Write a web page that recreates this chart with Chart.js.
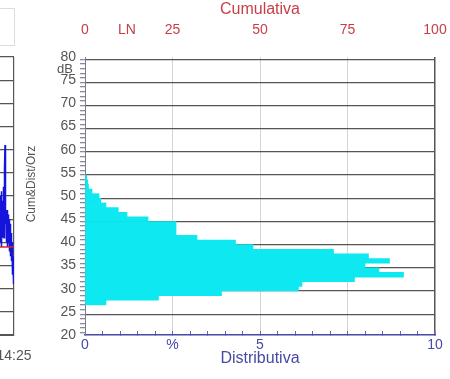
<!DOCTYPE html>
<html>
<head>
<meta charset="utf-8">
<script src="https://cdn.jsdelivr.net/npm/chart.js@4.4.0/dist/chart.umd.min.js"></script>
<style>
  html, body { margin: 0; padding: 0; background: #fff; }
  body { width: 450px; height: 379px; position: relative; overflow: hidden; }
  #trendWrap { position: absolute; left: -36px; top: 0; width: 90px; height: 379px; }
  #mainWrap { position: absolute; left: 0; top: 0; width: 450px; height: 379px; }
  #legendBox { position: absolute; left: -4px; top: 8px; width: 17px; height: 36px; border: 1px solid #ddd; }
</style>
</head>
<body>
<div id="legendBox"></div>
<div id="trendWrap"><canvas id="trendChart" width="90" height="379"></canvas></div>
<div id="mainWrap"><canvas id="distChart" width="450" height="379"></canvas></div>
<script>
// level classes (dB) and the share of time in each class (%)
const levelBins   = [54, 53, 52, 51, 50, 49, 48, 47, 46, 45, 44, 43, 42, 41, 40, 39, 38, 37, 36, 35, 34, 33, 32, 31, 30, 29, 28, 27];
const distPercent = [0.05, 0.08, 0.1, 0.2, 0.4, 0.45, 0.6, 0.95, 1.2, 1.8, 2.6, 2.6, 2.6, 3.2, 4.3, 4.8, 7.1, 8.1, 8.7, 8.0, 8.4, 9.1, 7.7, 6.2, 6.1, 3.9, 2.1, 0.6];

// tail of the time history panel on the left (minutes, dB)
const trendTimes  = [7.0, 7.05, 7.1, 7.15, 7.2, 7.25, 7.3, 7.35, 7.4, 7.45, 7.5, 7.55, 7.6, 7.65, 7.7, 7.75, 7.8, 7.85, 7.9, 7.95,
                     8.0, 8.05, 8.1, 8.15, 8.2, 8.25, 8.3, 8.35, 8.4, 8.45, 8.5, 8.55, 8.6, 8.65, 8.7, 8.75, 8.8, 8.85, 8.9, 8.95,
                     9.0, 9.05, 9.1, 9.15, 9.2, 9.25, 9.3, 9.35, 9.4, 9.45, 9.5, 9.55, 9.6, 9.65, 9.7, 9.75, 9.8, 9.85, 9.9, 9.95, 10.0];
const trendLevels = [44, 49, 41, 47, 43, 50, 40, 46, 42, 51, 44, 39, 48, 42, 49, 41, 46, 52, 43, 48,
                     41, 50, 45, 56, 61, 57, 49, 44, 47, 42, 46, 40, 45, 41, 47, 39, 44, 42, 46, 40,
                     43, 38, 45, 41, 44, 39, 43, 37, 42, 38, 41, 36, 40, 34, 38, 33, 37, 31, 35, 32, 34];
const leqTimes  = [7.0, 10.0];
const leqLevels = [39, 39];

// axis labels
const cumTicks  = [0, 12, 25, 50, 75, 100];
const cumLabels = ['0', 'LN', '25', '50', '75', '100'];
const distTicks  = [0, 2.5, 5, 10];
const distLabels = ['0', '%', '5', '10'];

Chart.defaults.font.family = '"Liberation Sans", Arial, sans-serif';

const grey = '#555';
const red = 'rgb(200, 62, 72)';
const blue = 'rgb(72, 72, 165)';

// left panel: only its right edge is inside the picture
new Chart('trendChart', {
    type: 'line',
    data: {
        datasets: [{
            data: leqTimes.map((t, i) => ({x: t, y: leqLevels[i]})),
            borderColor: '#e0202e',
            borderWidth: 1.5,
            pointRadius: 0
        }, {
            data: trendTimes.map((t, i) => ({x: t, y: trendLevels[i]})),
            borderColor: '#1414dc',
            borderWidth: 1.5,
            pointRadius: 0
        }]
    },
    options: {
        responsive: false,
        animation: false,
        events: [],
        layout: {padding: {left: 0, right: 40, top: 57, bottom: 0}},
        plugins: {legend: {display: false}, tooltip: {enabled: false}},
        scales: {
            x: {
                type: 'linear', min: 0, max: 10,
                afterBuildTicks: (s) => { s.ticks = [{value: 10}]; },
                ticks: {callback: () => '14:25', color: grey, font: {size: 14}, padding: 13, maxRotation: 0},
                grid: {color: grey, lineWidth: 1.2, drawTicks: false},
                border: {color: grey},
                afterFit: (s) => { s.height = 44; s.paddingLeft = 0; s.paddingRight = 0; }
            },
            y: {
                type: 'linear', min: 20, max: 80,
                ticks: {display: false, stepSize: 5},
                grid: {color: grey, lineWidth: 1.2, drawTicks: false},
                border: {display: false},
                afterFit: (s) => { s.width = 0; }
            }
        }
    }
});

const sideLabels = {
    id: 'sideLabels',
    afterDraw(chart) {
        const ctx = chart.ctx;
        ctx.save();
        ctx.fillStyle = grey;
        ctx.textAlign = 'center';
        ctx.textBaseline = 'middle';
        ctx.font = '13px "Liberation Sans", Arial, sans-serif';
        ctx.fillText('dB', 65, 69);
        ctx.translate(32, 184);
        ctx.rotate(-Math.PI / 2);
        ctx.font = '12px "Liberation Sans", Arial, sans-serif';
        ctx.fillText('Cum&Dist/Orz', 0, 0);
        ctx.restore();
    }
};

const fixPad = (h) => (s) => { s.height = h; s.paddingLeft = 0; s.paddingRight = 15; };

new Chart('distChart', {
    type: 'bar',
    data: {
        datasets: [{
            data: levelBins.map((db, i) => ({x: distPercent[i], y: db})),
            backgroundColor: 'rgb(14, 232, 240)',
            borderWidth: 0,
            barPercentage: 1,
            categoryPercentage: 1
        }]
    },
    options: {
        indexAxis: 'y',
        responsive: false,
        animation: false,
        events: [],
        layout: {padding: 0},
        plugins: {legend: {display: false}, tooltip: {enabled: false}},
        scales: {
            x: {
                type: 'linear', position: 'bottom', min: 0, max: 10,
                ticks: {
                    stepSize: 0.5, autoSkip: false, maxRotation: 0,
                    color: blue, font: {size: 14}, padding: 6,
                    callback: (v) => { const k = distTicks.indexOf(v); return k < 0 ? '' : distLabels[k]; }
                },
                grid: {
                    color: (c) => c.tick && c.tick.value === 10 ? grey : ([2.5, 5, 7.5].includes(c.tick && c.tick.value) ? '#d4d4d4' : 'rgba(0,0,0,0)'),
                    lineWidth: (c) => c.tick && c.tick.value === 10 ? 1.5 : 1,
                    tickColor: 'rgb(100, 100, 190)',
                    tickLength: -4
                },
                border: {color: blue, width: 1.5},
                title: {display: true, text: 'Distributiva', color: blue, font: {size: 16}, padding: {top: 0, bottom: 11}},
                afterFit: fixPad(44)
            },
            x2: {
                type: 'linear', position: 'top', min: 0, max: 100,
                afterBuildTicks: (s) => { s.ticks = cumTicks.map((v) => ({value: v})); },
                ticks: {
                    color: red, font: {size: 14}, padding: 18, maxRotation: 0, autoSkip: false,
                    callback: (v) => cumLabels[cumTicks.indexOf(v)]
                },
                grid: {display: false, drawTicks: false},
                border: {display: false},
                title: {display: true, text: 'Cumulativa', color: red, font: {size: 16}, padding: {top: 0, bottom: 0}},
                afterFit: fixPad(57)
            },
            y: {
                type: 'linear', min: 20, max: 80, offset: false,
                ticks: {
                    stepSize: 1, autoSkip: false, color: grey, font: {size: 14}, padding: 4,
                    callback: (v) => v % 5 === 0 ? String(v) : ''
                },
                grid: {
                    color: (c) => c.tick && c.tick.value % 5 === 0 && c.tick.value !== 20 ? grey : 'rgba(0,0,0,0)',
                    lineWidth: 1.3,
                    tickColor: '#8a8a9a',
                    tickLength: 5
                },
                border: {color: '#7a7a90', width: 1},
                afterFit: (s) => { s.width = 85; s.paddingTop = 0; s.paddingBottom = 0; }
            }
        }
    },
    plugins: [sideLabels]
});
</script>
</body>
</html>
